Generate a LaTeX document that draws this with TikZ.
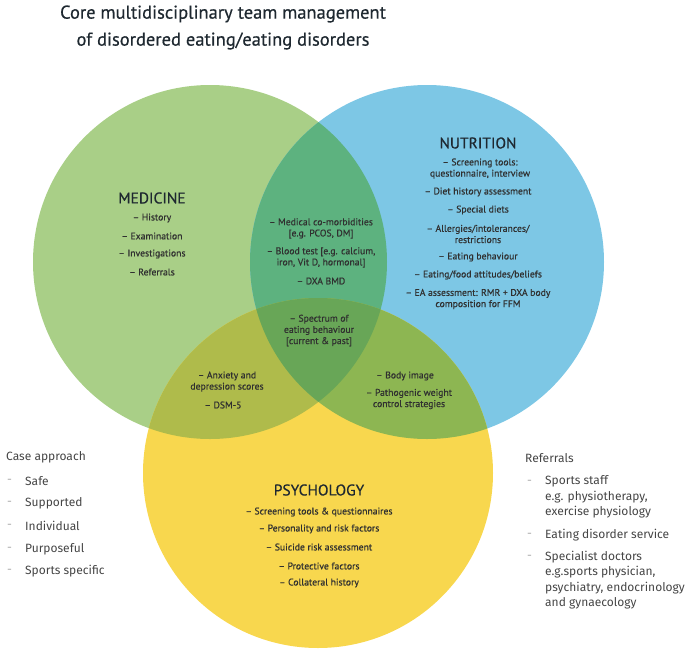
\documentclass[tikz,border=0pt]{standalone}
\usepackage{fontspec}
\setmainfont[FakeBold=0.5]{PT Sans}
\newfontfamily\sidefont{Fira Sans}

\definecolor{medgreen}{HTML}{A9CF87}
\definecolor{nutblue}{HTML}{7DC7E5}
\definecolor{psyyellow}{HTML}{F8D74E}
\definecolor{mednut}{HTML}{5DB27F}
\definecolor{medpsy}{HTML}{AFBB4B}
\definecolor{nutpsy}{HTML}{8DB652}
\definecolor{allthree}{HTML}{68A657}
\definecolor{inktext}{HTML}{303030}
\definecolor{inkhead}{HTML}{1E2830}
\definecolor{inkside}{HTML}{454545}
\definecolor{inkdash}{HTML}{A8A8A8}

\begin{document}
\begin{tikzpicture}[x=1pt,y=-1pt,
  head/.style={font=\fontsize{15.5}{17}\selectfont, text=inkhead, inner sep=0pt},
  item/.style={font=\fontsize{9.7}{11.2}\selectfont, text=inktext, align=center, inner sep=0pt},
  side/.style={font=\sidefont\fontsize{12}{15.5}\selectfont, text=inkside, align=left, anchor=west, inner sep=0pt},
  sidedash/.style={font=\sidefont\fontsize{12}{15.5}\selectfont, text=inkdash, anchor=west, inner sep=0pt}]

  \useasboundingbox (0,0) rectangle (689,665);

  \coordinate (Med) at (210,262);
  \coordinate (Nut) at (427,262);
  \coordinate (Psy) at (318,473);

  % Draw the three circles
  \fill [medgreen] (Med) circle [radius=177pt];
  \fill [nutblue] (Nut) circle [radius=177pt];
  \fill [psyyellow] (Psy) circle [radius=175pt];

  % Shade the overlaps
  \begin{scope}
    \clip (Med) circle [radius=177pt];
    \fill [mednut] (Nut) circle [radius=177pt];
    \fill [medpsy] (Psy) circle [radius=175pt];
  \end{scope}
  \begin{scope}
    \clip (Nut) circle [radius=177pt];
    \fill [nutpsy] (Psy) circle [radius=175pt];
  \end{scope}
  \begin{scope}
    \clip (Med) circle [radius=177pt];
    \clip (Nut) circle [radius=177pt];
    \fill [allthree] (Psy) circle [radius=175pt];
  \end{scope}

  % Title
  \node (title) at (223,27.5) [align=center, text=inkhead, font=\fontsize{18.5}{27}\selectfont]
    {Core multidisciplinary team management\\of disordered eating/eating disorders};

  % Medicine
  \node [head] (medicine) at (152,198) {MEDICINE};
  \node [item] (history) at (152,218) {-- History};
  \node [item] (exam) at (152,236) {-- Examination};
  \node [item] (invest) at (152,254) {-- Investigations};
  \node [item] (referrals) at (152,272) {-- Referrals};

  % Medicine and nutrition
  \node [item] (comorb) at (321,228.5) {-- Medical co-morbidities\\\relax [e.g. PCOS, DM]};
  \node [item] (blood) at (321,257.5) {-- Blood test [e.g. calcium,\\iron, Vit D, hormonal]};
  \node [item] (dxa) at (321,281) {-- DXA BMD};

  % Nutrition
  \node [head] (nutrition) at (478,143) {NUTRITION};
  \node [item] (screen) at (480,168.5) {-- Screening tools:\\questionnaire, interview};
  \node [item] (diet) at (478,192) {-- Diet history assessment};
  \node [item] (special) at (478,210) {-- Special diets};
  \node [item] (allerg) at (478,234) {-- Allergies/intolerances/\\restrictions};
  \node [item] (eatbeh) at (478,257) {-- Eating behaviour};
  \node [item] (attit) at (478,275) {-- Eating/food attitudes/beliefs};
  \node [item] (ea) at (478,299) {-- EA assessment: RMR + DXA body\\composition for FFM};

  % All three
  \node [item] (spectrum) at (319,330.5) {-- Spectrum of\\eating behaviour\\\relax [current \& past]};

  % Medicine and psychology
  \node [item] (anxiety) at (227,381.5) {-- Anxiety and\\depression scores};
  \node [item] (dsm) at (223,405) {-- DSM-5};

  % Nutrition and psychology
  \node [item] (body) at (405,376) {-- Body image};
  \node [item] (pathog) at (409,399) {-- Pathogenic weight\\control strategies};

  % Psychology
  \node [head] (psychology) at (319,490) {PSYCHOLOGY};
  \node [item] (pscreen) at (319,512) {-- Screening tools \& questionnaires};
  \node [item] (person) at (319,529) {-- Personality and risk factors};
  \node [item] (suicide) at (319,547) {-- Suicide risk assessment};
  \node [item] (protect) at (319,566) {-- Protective factors};
  \node [item] (collat) at (319,583) {-- Collateral history};

  % Case approach
  \node [side] (case) at (6,457) {Case approach};
  \node [sidedash] (d1) at (7,481) {-};
  \node [side] (safe) at (25,481) {Safe};
  \node [sidedash] (d2) at (7,503) {-};
  \node [side] (supported) at (25,503) {Supported};
  \node [sidedash] (d3) at (7,526) {-};
  \node [side] (individual) at (25,526) {Individual};
  \node [sidedash] (d4) at (7,549) {-};
  \node [side] (purposeful) at (25,549) {Purposeful};
  \node [sidedash] (d5) at (7,571) {-};
  \node [side] (sports) at (25,571) {Sports specific};

  % Referrals
  \node [side] (refer) at (525,458) {Referrals};
  \node [sidedash] (r1) at (527,482) {-};
  \node [side] (staff) at (545,497) {Sports staff\\e.g. physiotherapy,\\exercise physiology};
  \node [sidedash] (r2) at (527,535) {-};
  \node [side] (service) at (545,535) {Eating disorder service};
  \node [sidedash] (r3) at (527,557) {-};
  \node [side] (doctors) at (545,580) {Specialist doctors\\e.g.sports physician,\\psychiatry, endocrinology\\and gynaecology};

\end{tikzpicture}
\end{document}
